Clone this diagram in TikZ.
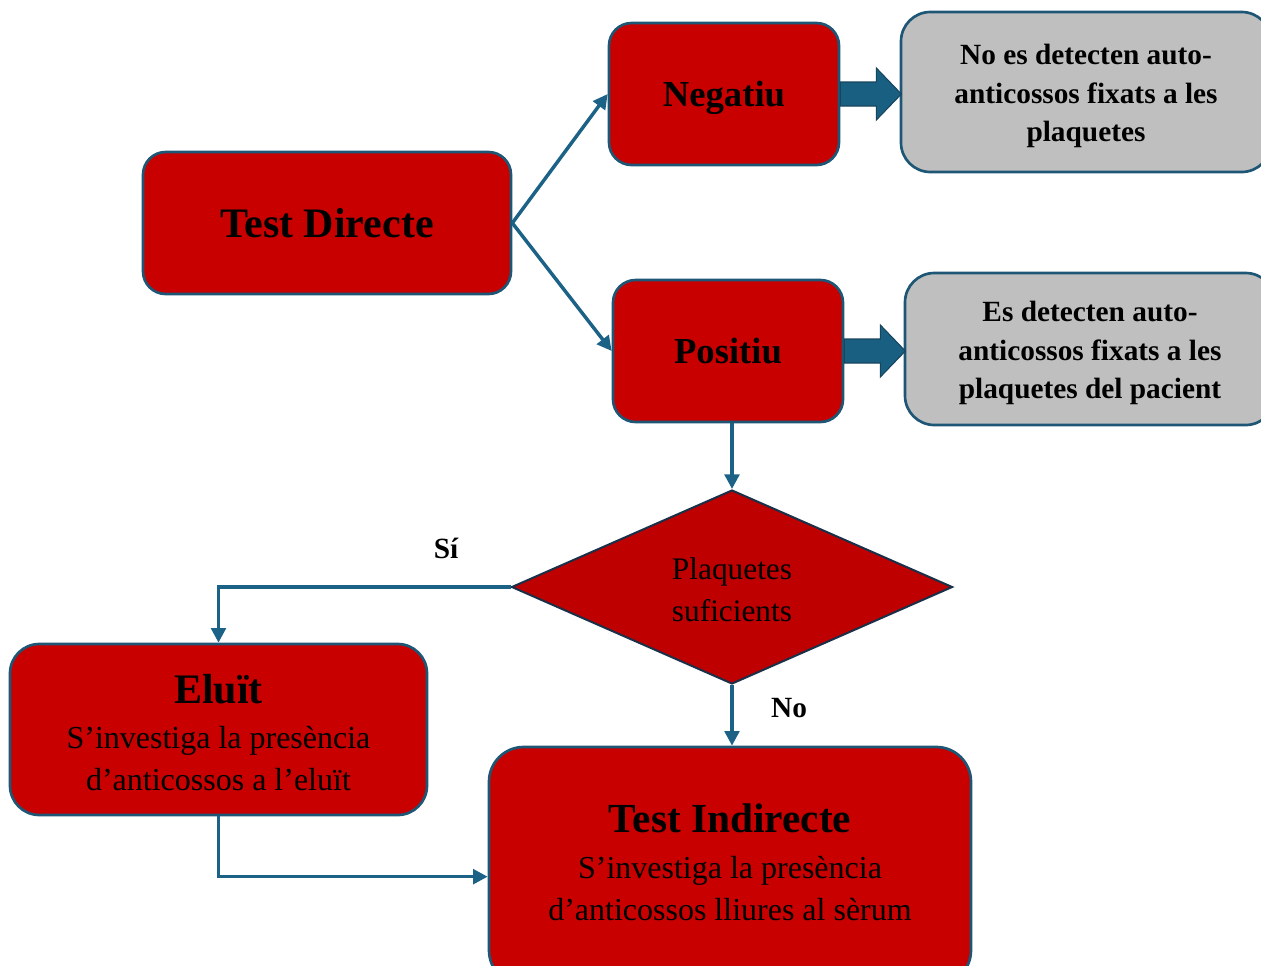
\documentclass[tikz,border=0pt]{standalone}
\usepackage{fontspec}
\setmainfont{Liberation Serif}
\usetikzlibrary{shapes.geometric,arrows.meta,calc}
\definecolor{boxred}{HTML}{C80000}
\definecolor{diared}{HTML}{BE0000}
\definecolor{edgeblue}{HTML}{1E5675}
\definecolor{diaedge}{HTML}{1A3048}
\definecolor{linkblue}{HTML}{1B6286}
\definecolor{fatblue}{HTML}{195F82}
\definecolor{boxgray}{HTML}{BFBFBF}
\tikzset{
  redbox/.style={draw=edgeblue, line width=2pt, fill=boxred, rounded corners=17pt, align=center, inner sep=0pt},
  graybox/.style={draw=edgeblue, line width=2pt, fill=boxgray, rounded corners=22pt, inner sep=0pt},
  graytext/.style={align=center, inner sep=0pt, font=\fontsize{22}{29}\selectfont\bfseries},
  subtext/.style={align=center, inner sep=0pt, font=\fontsize{24}{31.5}\selectfont},
  link/.style={draw=linkblue, line width=2.6pt, -{Triangle[length=11pt,width=11pt]}},
  fatarrow/.style={fill=fatblue, draw=edgeblue!80!black, line width=0.8pt},
  lbl/.style={font=\fontsize{22}{26}\selectfont\bfseries, inner sep=0pt}
}
\begin{document}
\begin{tikzpicture}[x=0.75pt,y=-0.75pt]
\useasboundingbox (0,0) rectangle (1261,965);
% nodes
\node[redbox, minimum width=276pt, minimum height=106.5pt, font=\fontsize{31.5}{36}\selectfont\bfseries] (TD) at (327,223) {Test Directe};
\node[redbox, minimum width=172.5pt, minimum height=106.5pt, text depth=0pt, font=\fontsize{27.5}{32}\selectfont\bfseries] (Neg) at (724,94) {Negatiu};
\node[redbox, minimum width=172.5pt, minimum height=106.5pt, font=\fontsize{27.5}{32}\selectfont\bfseries] (Pos) at (728,351) {Positiu};
\node[graybox, minimum width=277.5pt, minimum height=120pt,
  label={[graytext, yshift=-3pt]center:No es detecten auto-\\anticossos fixats a les\\plaquetes}] (G1) at (1086,92) {};
\node[graybox, minimum width=277.5pt, minimum height=114pt,
  label={[graytext, yshift=-3pt]center:Es detecten auto-\\anticossos fixats a les\\plaquetes del pacient}] (G2) at (1090,349) {};
\node[diamond, aspect=2.27, draw=diaedge, line width=1.5pt, fill=diared, inner sep=0pt,
  minimum width=330.75pt, minimum height=145.5pt,
  label={[align=center, inner sep=0pt, font=\fontsize{23.5}{31.5}\selectfont, yshift=-2.2pt]center:Plaquetes\\suficients}] (D) at (732,587) {};
\node[redbox, rounded corners=22pt, minimum width=312.75pt, minimum height=128.25pt,
  label={[subtext, yshift=-2.2pt]center:{\fontsize{31.5}{36}\selectfont\bfseries Eluït}\\[2pt]S’investiga la presència\\d’anticossos a l’eluït}] (Elu) at (218.5,729.5) {};
\node[redbox, rounded corners=26pt, minimum width=361.5pt, minimum height=178.5pt,
  label={[subtext, yshift=2.5pt]center:{\fontsize{31}{36}\selectfont\bfseries Test Indirecte}\\[3pt]S’investiga la presència\\d’anticossos lliures al sèrum}] (TI) at (730,866) {};
% labels
\node[lbl] (si) at (446,548) {Sí};
\node[lbl] (no) at (789,708) {No};
% connectors
\draw[link] (TD.east) -- (Neg.west);
\draw[link] (TD.east) -- (Pos.west);
\draw[link] (D.north |- Pos.south) -- (D.north);
\draw[link] (D.west) -| (Elu.north);
\draw[link] (D.south) -- (D.south |- TI.north);
\draw[link] (Elu.south) |- ([yshift=-8pt]TI.west);
% fat arrows
\draw[fatarrow] ([yshift=9pt]Neg.east) -- ++(27pt,0) -- ++(0,10.5pt) -- ++(18.75pt,-19.5pt) -- ++(-18.75pt,-19.5pt) -- ++(0,10.5pt) -- ++(-27pt,0) -- cycle;
\draw[fatarrow] ([yshift=9pt]Pos.east) -- ++(27pt,0) -- ++(0,10.5pt) -- ++(18.75pt,-19.5pt) -- ++(-18.75pt,-19.5pt) -- ++(0,10.5pt) -- ++(-27pt,0) -- cycle;
\end{tikzpicture}
\end{document}
